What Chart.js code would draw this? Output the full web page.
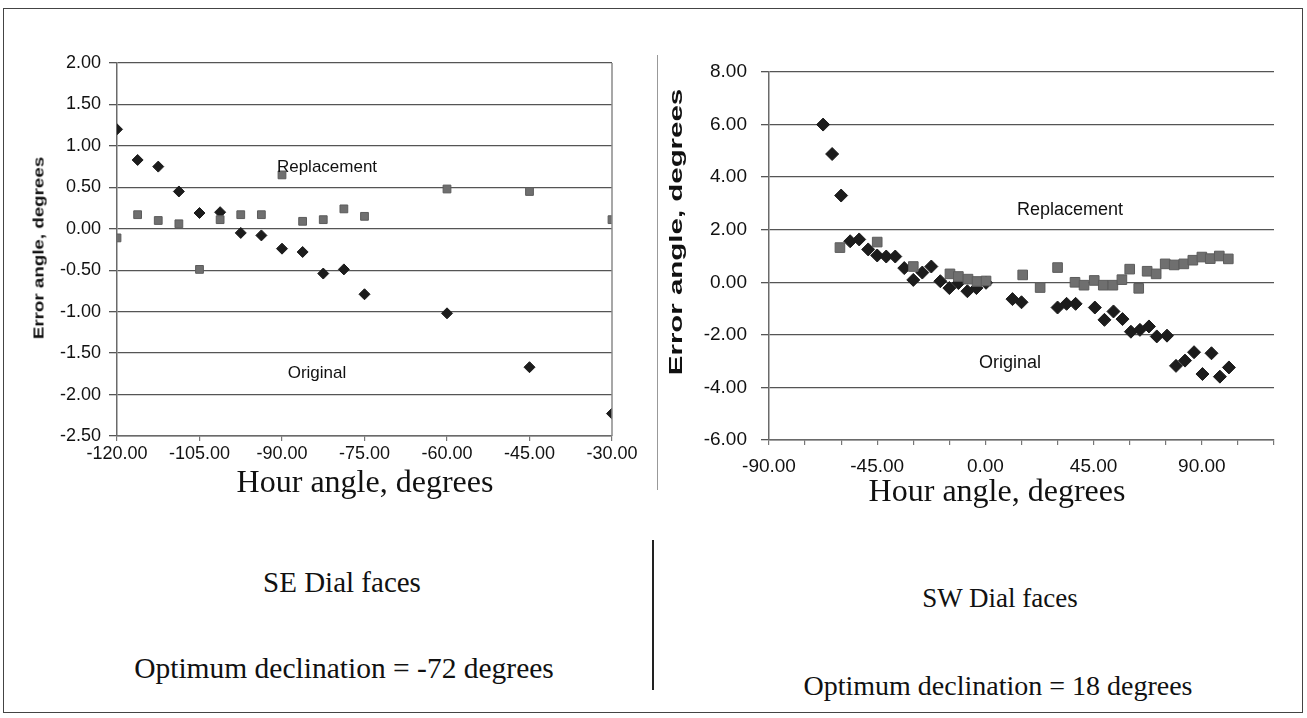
<!DOCTYPE html>
<html>
<head>
<meta charset="utf-8">
<script src="https://cdn.jsdelivr.net/npm/chart.js@4.4.1/dist/chart.umd.min.js"></script>
<style>
  html, body { margin: 0; padding: 0; background: #fff; }
  body { width: 1307px; height: 718px; position: relative; overflow: hidden; }
  .frame { position: absolute; left: 3px; top: 8px; width: 1298px; height: 703px; border: 1.5px solid #444; }
  .vline { position: absolute; width: 0; }
  .txt { position: absolute; transform: translate(-50%, -50%); white-space: nowrap; color: #111; }
  .serif { font-family: "Liberation Serif", "Times New Roman", serif; }
  .sans { font-family: "Liberation Sans", Arial, sans-serif; }
  .ytitle { font-family: "Liberation Sans", Arial, sans-serif; font-weight: bold; }
  canvas { position: absolute; }
</style>
</head>
<body>
<div class="frame"></div>
<div class="vline" style="left:657px; top:55px; height:435px; border-left:1px solid #999;"></div>
<div class="vline" style="left:652px; top:540px; height:150px; border-left:2px solid #222;"></div>

<div id="wrapSE" style="position:absolute; left:0; top:0; width:660px; height:480px;"><canvas id="chartSE"></canvas></div>
<div id="wrapSW" style="position:absolute; left:660px; top:0; width:647px; height:500px;"><canvas id="chartSW"></canvas></div>

<div class="txt ytitle" style="left:38px; top:248px; font-size:15px; transform:translate(-50%,-50%) rotate(-90deg) scaleX(1.25);">Error angle, degrees</div>
<div style="position:absolute; left:660px; top:88px; width:40px; height:310px; overflow:hidden;">
  <div class="txt ytitle" style="left:16px; top:144px; font-size:19px; transform:translate(-50%,-50%) rotate(-90deg) scaleX(1.55);">Error angle, degrees</div>
</div>

<div class="txt sans" style="left:327px; top:167px; font-size:17px;">Replacement</div>
<div class="txt sans" style="left:317px; top:373px; font-size:17px;">Original</div>
<div class="txt sans" style="left:1070px; top:209px; font-size:18px;">Replacement</div>
<div class="txt sans" style="left:1010px; top:362px; font-size:18px;">Original</div>

<div class="txt serif" style="left:365px; top:481px; font-size:32px;">Hour angle, degrees</div>
<div class="txt serif" style="left:997px; top:490px; font-size:32px;">Hour angle, degrees</div>
<div class="txt serif" style="left:342px; top:582px; font-size:29px;">SE Dial faces</div>
<div class="txt serif" style="left:1000px; top:598px; font-size:27px;">SW Dial faces</div>
<div class="txt serif" style="left:344px; top:668px; font-size:29.5px;">Optimum declination = -72 degrees</div>
<div class="txt serif" style="left:998px; top:686px; font-size:28px;">Optimum declination = 18 degrees</div>

<script>
// SE dial faces (hour angle, degrees)
var seHour = [-120, -116.25, -112.5, -108.75, -105, -101.25, -97.5, -93.75, -90, -86.25, -82.5, -78.75, -75, -60, -45, -30];
var seOriginal = [1.20, 0.83, 0.75, 0.45, 0.19, 0.20, -0.05, -0.08, -0.24, -0.28, -0.54, -0.49, -0.79, -1.02, -1.67, -2.23];
var seReplacement = [-0.11, 0.17, 0.10, 0.06, -0.49, 0.11, 0.17, 0.17, 0.65, 0.09, 0.11, 0.24, 0.15, 0.48, 0.45, 0.11];

// SW dial faces
var swOrigHour = [-67.5, -63.75, -60, -56.25, -52.5, -48.75, -45, -41.25, -37.5, -33.75, -30, -26.25, -22.5, -18.75, -15, -11.25, -7.5, -3.75, 0.25,
  11.25, 15, 30, 33.75, 37.5, 45.5, 49.5, 53.25, 57, 60.5, 64.25, 68, 71.25, 75.5, 79.25, 83, 86.75, 90.25, 94, 97.5, 101.25];
var swOriginal = [6.00, 4.88, 3.30, 1.56, 1.63, 1.25, 1.02, 0.98, 0.98, 0.54, 0.09, 0.37, 0.60, 0.04, -0.22, -0.03, -0.34, -0.22, -0.02,
  -0.64, -0.76, -0.96, -0.82, -0.82, -0.96, -1.43, -1.11, -1.40, -1.88, -1.81, -1.68, -2.06, -2.03, -3.18, -2.98, -2.66, -3.49, -2.70, -3.59, -3.24];
var swReplHour = [-60.5, -45, -30, -14.75, -11.25, -7.25, -3.5, 0.25, 15.5, 22.75, 30, 37.25, 41, 45.25, 49, 53, 56.75, 60, 63.75, 67.25,
  71, 74.75, 78.5, 82.5, 86.25, 90, 93.5, 97.25, 101];
var swReplacement = [1.32, 1.53, 0.60, 0.32, 0.22, 0.12, 0.03, 0.05, 0.28, -0.20, 0.56, 0.00, -0.11, 0.07, -0.11, -0.11, 0.10, 0.50, -0.23, 0.42,
  0.32, 0.70, 0.66, 0.70, 0.84, 0.96, 0.90, 1.00, 0.89];

var seYTicks = [-2.5, 2, 0.5];   // min, max, step
var seXTicks = [-120, -30, 15];
var swYTicks = [-6, 8, 2];
var swXTicks = [-90, 120, 15];
var swXLabelEvery = 45;

function pairs(xs, ys) {
  return xs.map(function (x, i) { return {x: x, y: ys[i]}; });
}

var rightBorder = {
  id: 'rightBorder',
  afterDraw: function (chart, args, opts) {
    if (!opts.show) return;
    var a = chart.chartArea, ctx = chart.ctx;
    ctx.save();
    ctx.strokeStyle = '#8a8a8a';
    ctx.lineWidth = 1.5;
    ctx.beginPath();
    ctx.moveTo(a.right, a.top);
    ctx.lineTo(a.right, a.bottom);
    ctx.stroke();
    ctx.restore();
  }
};

function makeChart(id, cfg) {
  return new Chart(document.getElementById(id), {
    type: 'scatter',
    data: {
      datasets: [{
        label: 'Replacement',
        data: cfg.repl,
        pointStyle: 'rect',
        pointRadius: cfg.sqR,
        pointHoverRadius: cfg.sqR,
        backgroundColor: '#6f6f6f',
        borderColor: '#5c5c5c',
        borderWidth: 1,
        order: 1
      }, {
        label: 'Original',
        data: cfg.orig,
        pointStyle: 'rectRot',
        pointRadius: cfg.dR,
        pointHoverRadius: cfg.dR,
        backgroundColor: '#1c1c1c',
        borderColor: '#1c1c1c',
        borderWidth: 1,
        order: 2
      }]
    },
    options: {
      responsive: true,
      maintainAspectRatio: false,
      animation: false,
      events: [],
      layout: { padding: cfg.pad },
      plugins: { legend: { display: false }, tooltip: { enabled: false }, rightBorder: { show: cfg.border } },
      scales: {
        x: {
          type: 'linear',
          min: cfg.xt[0], max: cfg.xt[1],
          afterFit: function (s) { s.height = cfg.xH; },
          grid: { drawOnChartArea: false, drawTicks: true, tickLength: 5, color: '#777', lineWidth: 1.2 },
          border: { display: true, color: '#6a6a6a', width: 1.5 },
          ticks: {
            stepSize: cfg.xt[2],
            autoSkip: false,
            maxRotation: 0,
            padding: cfg.xPad,
            color: '#111',
            font: { family: 'Liberation Sans, Arial', size: cfg.font },
            callback: function (v) {
              if (cfg.every && (v - cfg.xt[0]) % cfg.every !== 0) return '';
              return v.toFixed(2);
            }
          }
        },
        y: {
          type: 'linear',
          min: cfg.yt[0], max: cfg.yt[1],
          afterFit: function (s) { s.width = cfg.yW; },
          grid: { color: '#555', lineWidth: 1.3, tickLength: 8, drawTicks: true },
          border: { display: true, color: '#6a6a6a', width: 1.5 },
          ticks: {
            stepSize: cfg.yt[2],
            padding: cfg.yPad,
            color: '#111',
            font: { family: 'Liberation Sans, Arial', size: cfg.font },
            callback: function (v) { return v.toFixed(2); }
          }
        }
      }
    },
    plugins: [rightBorder]
  });
}

makeChart('chartSE', {
  orig: pairs(seHour, seOriginal),
  repl: pairs(seHour, seReplacement),
  xt: seXTicks, yt: seYTicks, every: 0,
  pad: { left: 0, top: 63, right: 48, bottom: 0 },
  xH: 44, yW: 117, xPad: 2, yPad: 8, font: 18,
  dR: 5.5, sqR: 5.5, border: true
});

makeChart('chartSW', {
  orig: pairs(swOrigHour, swOriginal),
  repl: pairs(swReplHour, swReplacement),
  xt: swXTicks, yt: swYTicks, every: swXLabelEvery,
  pad: { left: 0, top: 72, right: 33, bottom: 0 },
  xH: 60, yW: 109, xPad: 10, yPad: 14, font: 19,
  dR: 6.5, sqR: 6.8, border: false
});
</script>
</body>
</html>
